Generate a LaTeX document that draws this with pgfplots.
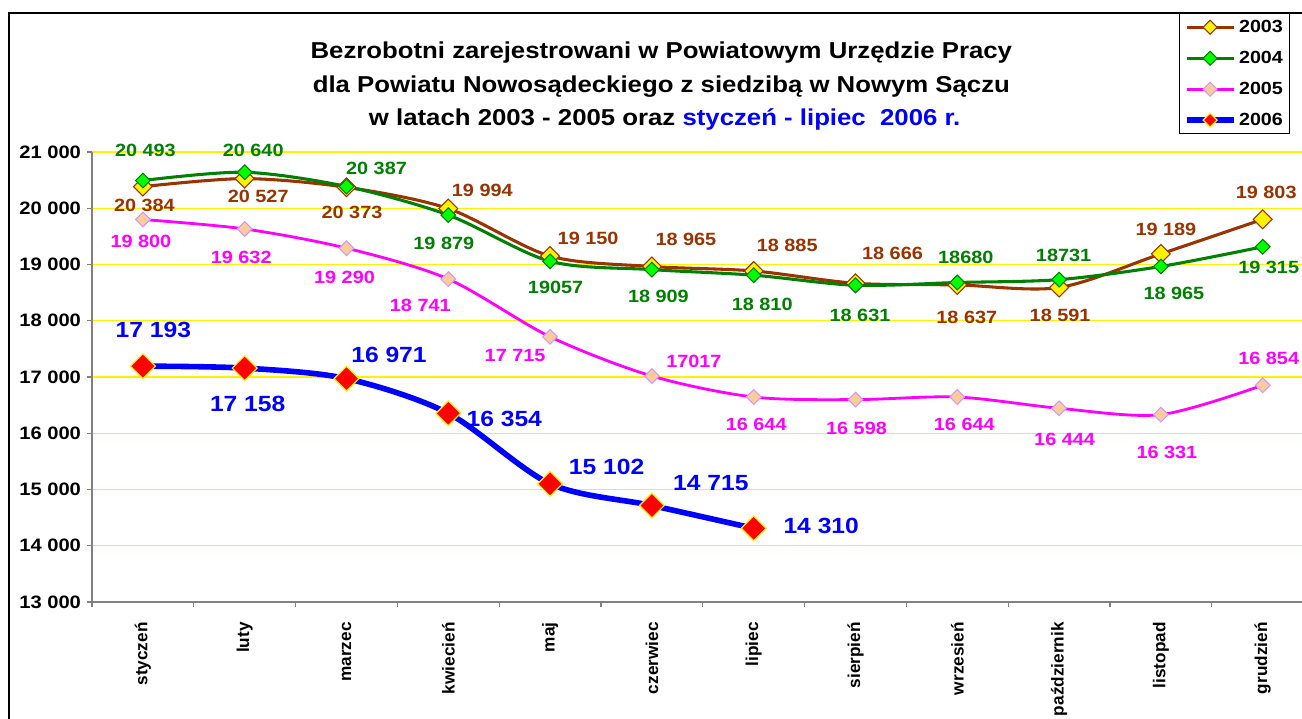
\documentclass[border=0pt]{standalone}
\usepackage{pgfplots}
\pgfplotsset{compat=1.18}
\usepackage{fontspec}
\setmainfont{Liberation Sans}[FakeStretch=1.12]
\newfontfamily\plainsans{Liberation Sans}
\definecolor{c03}{HTML}{993300}
\definecolor{c04}{HTML}{008000}
\definecolor{c04m}{HTML}{00FF00}
\definecolor{c05}{HTML}{FF00FF}
\definecolor{c05m}{HTML}{FFCC99}
\definecolor{c05e}{HTML}{CC99FF}
\definecolor{c06}{HTML}{0000FF}
\definecolor{axgray}{HTML}{808080}
\newcommand\lblfont{\fontsize{13.3pt}{14pt}\selectfont\bfseries}
\newcommand\bluefont{\fontsize{16.5pt}{17pt}\selectfont\bfseries}
\newcommand{\lbl}[6]{\node[font=\lblfont,text=#1,inner sep=0pt,xshift=#4*0.75pt,yshift=#5*0.75pt] at (axis cs:#2,#3) {#6};}
\newcommand{\blbl}[5]{\node[font=\bluefont,text=c06,inner sep=0pt,xshift=#3*0.75pt,yshift=#4*0.75pt] at (axis cs:#1,#2) {#5};}
\begin{document}
\begin{tikzpicture}
\useasboundingbox (0,0) rectangle (976.5pt,538.5pt);
\clip (0,0) rectangle (976.5pt,538.5pt);
\fill[white] (0,0) rectangle (976.5pt,538.5pt);
% title
\node[anchor=base,font=\fontsize{17.25pt}{20pt}\selectfont\bfseries] at (496pt,494.8pt) {Bezrobotni zarejestrowani w Powiatowym Urzędzie Pracy};
\node[anchor=base,font=\fontsize{17.25pt}{20pt}\selectfont\bfseries] at (496pt,469.1pt) {dla Powiatu Nowosądeckiego z siedzibą w Nowym Sączu};
\node[anchor=base,font=\fontsize{17.25pt}{20pt}\selectfont\bfseries] at (498.5pt,444pt) {w latach 2003 - 2005 oraz \textcolor{c06}{styczeń - lipiec\ \ 2006 r.}};
\begin{axis}[
  at={(69pt,87pt)}, anchor=south west,
  scale only axis, width=916.2pt, height=337.5pt,
  xmin=-0.5, xmax=11.5, ymin=13000, ymax=21000,
  clip=false, scaled y ticks=false,
  axis x line*=bottom, axis y line*=left,
  axis line style={draw=axgray,line width=1.1pt},
  ytick={13000,14000,...,21000},
  yticklabels={13 000,14 000,15 000,16 000,17 000,18 000,19 000,20 000,21 000},
  yticklabel style={font=\fontsize{13.5pt}{14pt}\selectfont\bfseries, xshift=-1pt},
  xtick={0,...,11},
  xticklabels={styczeń,luty,marzec,kwiecień,maj,czerwiec,lipiec,sierpień,wrzesień,październik,listopad,grudzień},
  xticklabel style={font=\plainsans\fontsize{12.9pt}{13pt}\selectfont\bfseries, rotate=90, anchor=east, xshift=-8pt},
  minor xtick={-0.5,0.5,...,11.5},
  tick align=outside,
  major tick length=3.75pt, minor tick length=3.75pt,
  x tick style={draw=none},
  minor x tick style={draw=axgray,line width=1pt},
  y tick style={draw=axgray,line width=1pt},
  ymajorgrids, grid style={draw=yellow,line width=0.9pt},
  legend style={at={(0.9807,1.3089)}, anchor=north east, draw=black, line width=0.7pt, fill=white,
    font=\fontsize{13.2pt}{14pt}\selectfont\bfseries, inner xsep=3pt, inner ysep=3pt, row sep=8.5pt,
    /tikz/every even column/.append style={column sep=0pt}},
  legend cell align=left,
  legend image code/.code={\draw[mark repeat=2,mark phase=2,mark size=3.7pt] plot coordinates {(0pt,0pt)(17.6pt,0pt)(35.2pt,0pt)};},
]
\addplot[c03, line width=2.3pt, smooth, tension=0.5, mark=square*, mark size=5pt,
  mark options={rotate=45, fill=yellow, draw=c03, line width=0.8pt}]
  coordinates {(0,20384)(1,20527)(2,20373)(3,19994)(4,19150)(5,18965)(6,18885)(7,18666)(8,18637)(9,18591)(10,19189)(11,19803)};
\addlegendentry{2003}
\addplot[c04, line width=2.3pt, smooth, tension=0.5, mark=square*, mark size=3.9pt,
  mark options={rotate=45, fill=c04m, draw=c04, line width=0.8pt}]
  coordinates {(0,20493)(1,20640)(2,20387)(3,19879)(4,19057)(5,18909)(6,18810)(7,18631)(8,18680)(9,18731)(10,18965)(11,19315)};
\addlegendentry{2004}
\addplot[c05, line width=2.1pt, smooth, tension=0.5, mark=square*, mark size=3.9pt,
  mark options={rotate=45, fill=c05m, draw=c05e, line width=0.8pt}]
  coordinates {(0,19800)(1,19632)(2,19290)(3,18741)(4,17715)(5,17017)(6,16644)(7,16598)(8,16644)(9,16444)(10,16331)(11,16854)};
\addlegendentry{2005}
\addplot[c06, line width=4.2pt, smooth, tension=0.5, mark=square*, mark size=6.6pt,
  mark options={rotate=45, fill=red, draw=yellow, line width=0.9pt}]
  coordinates {(0,17193)(1,17158)(2,16971)(3,16354)(4,15102)(5,14715)(6,14310)};
\addlegendentry{2006}
% 2003 labels
\lbl{c03}{0}{20384}{1.5}{-18.5}{20 384}
\lbl{c03}{1}{20527}{13.5}{-17.5}{20 527}
\lbl{c03}{2}{20373}{5.5}{-24.7}{20 373}
\lbl{c03}{3}{19994}{34}{18}{19 994}
\lbl{c03}{4}{19150}{38}{18}{19 150}
\lbl{c03}{5}{18965}{34}{27.5}{18 965}
\lbl{c03}{6}{18885}{33.5}{26}{18 885}
\lbl{c03}{7}{18666}{37}{30}{18 666}
\lbl{c03}{8}{18637}{9.5}{-32}{18 637}
\lbl{c03}{9}{18591}{1}{-27.5}{18 591}
\lbl{c03}{10}{19189}{5}{24}{19 189}
\lbl{c03}{11}{19803}{3.5}{27}{19 803}
% 2004 labels
\lbl{c04}{0}{20493}{2.5}{30.5}{20 493}
\lbl{c04}{1}{20640}{8.5}{22}{20 640}
\lbl{c04}{2}{20387}{30}{18.5}{20 387}
\lbl{c04}{3}{19879}{-4.5}{-28}{19 879}
\lbl{c04}{4}{19057}{5.5}{-26}{19057}
\lbl{c04}{5}{18909}{6.5}{-26.5}{18 909}
\lbl{c04}{6}{18810}{8.5}{-29}{18 810}
\lbl{c04}{7}{18631}{4.5}{-30}{18 631}
\lbl{c04}{8}{18680}{8.5}{25.5}{18680}
\lbl{c04}{9}{18731}{4.5}{24.6}{18731}
\lbl{c04}{10}{18965}{13}{-26.5}{18 965}
\lbl{c04}{11}{19315}{6}{-21}{19 315}
% 2005 labels
\lbl{c05}{0}{19800}{-2}{-21.5}{19 800}
\lbl{c05}{1}{19632}{-3.5}{-28}{19 632}
\lbl{c05}{2}{19290}{-2}{-29}{19 290}
\lbl{c05}{3}{18741}{-28}{-26}{18 741}
\lbl{c05}{4}{17715}{-35}{-19}{17 715}
\lbl{c05}{5}{17017}{42}{15}{17017}
\lbl{c05}{6}{16644}{2.5}{-27}{16 644}
\lbl{c05}{7}{16598}{1}{-28.4}{16 598}
\lbl{c05}{8}{16644}{7}{-27}{16 644}
\lbl{c05}{9}{16444}{5.5}{-30.7}{16 444}
\lbl{c05}{10}{16331}{6}{-37.4}{16 331}
\lbl{c05}{11}{16854}{6}{27}{16 854}
% 2006 labels
\blbl{0}{17193}{10.5}{36}{17 193}
\blbl{1}{17158}{3}{-36}{17 158}
\blbl{2}{16971}{42.5}{23.6}{16 971}
\blbl{3}{16354}{56}{-6}{16 354}
\blbl{4}{15102}{56.5}{17}{15 102}
\blbl{5}{14715}{59}{22.5}{14 715}
\blbl{6}{14310}{67.5}{2}{14 310}
\end{axis}
% outer frame
\draw[line width=1.5pt,draw=black] (6.4pt,-20pt) -- (6.4pt,529.1pt) -- (1000pt,529.1pt);
\end{tikzpicture}
\end{document}
